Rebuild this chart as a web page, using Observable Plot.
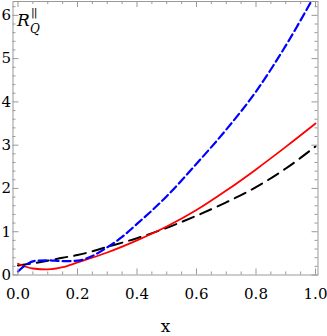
<!DOCTYPE html>
<html>
<head>
<meta charset="utf-8">
<script src="https://cdn.jsdelivr.net/npm/d3@7"></script>
<script src="https://cdn.jsdelivr.net/npm/@observablehq/plot@0.6"></script>
<style>
  html, body { margin: 0; padding: 0; background: #fff; }
  #wrap { position: relative; width: 327px; height: 336px; }
  #ylab { position: absolute; left: 17px; top: 4px; font-family: "DejaVu Serif", "Liberation Serif", "Times New Roman", serif; color: #000; line-height: 1; }
  #ylab .R { font-style: italic; font-size: 17px; position: absolute; left: 0; top: 8px; }
  #ylab .sup { font-size: 11px; position: absolute; left: 14px; top: 3px; letter-spacing: -1px; font-family: "DejaVu Sans", sans-serif; }
  #ylab .sub { font-style: italic; font-size: 12px; position: absolute; left: 13px; top: 19px; }
</style>
</head>
<body>
<div id="wrap">
  <div id="ylab"><span class="R">R</span><span class="sup">||</span><span class="sub">Q</span></div>
</div>
<script>
// Data
const xGrid = [0, 0.05, 0.1, 0.15, 0.2, 0.3, 0.4, 0.5, 0.6, 0.7, 0.8, 0.9, 1.0];
const redValues = [0.26, 0.15, 0.13, 0.18, 0.29, 0.52, 0.8, 1.12, 1.5, 1.95, 2.44, 2.96, 3.5];
const blackValues = [0.22, 0.27, 0.33, 0.40, 0.46, 0.65, 0.85, 1.09, 1.37, 1.68, 2.03, 2.46, 2.97];
const blueGrid = [0, 0.03, 0.06, 0.1, 0.15, 0.2, 0.25, 0.3, 0.35, 0.4, 0.5, 0.6, 0.7, 0.8, 0.9, 1.0];
const blueValues = [0.08, 0.25, 0.33, 0.34, 0.32, 0.33, 0.44, 0.64, 0.88, 1.18, 1.82, 2.57, 3.36, 4.24, 5.3, 6.5];

const xMajor = [0, 0.2, 0.4, 0.6, 0.8, 1.0];
const xMinor = [0.05, 0.1, 0.15, 0.25, 0.3, 0.35, 0.45, 0.5, 0.55, 0.65, 0.7, 0.75, 0.85, 0.9, 0.95];
const yMajor = [0, 1, 2, 3, 4, 5, 6];
const yMinor = [0.2, 0.4, 0.6, 0.8, 1.2, 1.4, 1.6, 1.8, 2.2, 2.4, 2.6, 2.8, 3.2, 3.4, 3.6, 3.8,
                4.2, 4.4, 4.6, 4.8, 5.2, 5.4, 5.6, 5.8, 6.2];

const xDomain = [-0.0168, 1.0084];
const yDomain = [0, 6.32];

const red = xGrid.map((x, i) => ({x, y: redValues[i]}));
const black = xGrid.map((x, i) => ({x, y: blackValues[i]}));
const blue = blueGrid.map((x, i) => ({x, y: blueValues[i]}));

const X0 = xDomain[0], X1 = xDomain[1], Y0 = yDomain[0], Y1 = yDomain[1];
const majY = 0.14, minY = 0.07;   // x-tick lengths in y units
const majX = 0.02, minX = 0.01;   // y-tick lengths in x units
const gray = "#999";
const serif = "'DejaVu Serif', 'Liberation Serif', 'Times New Roman', serif";

const svg = Plot.plot({
  width: 327,
  height: 336,
  marginLeft: 12.5,
  marginRight: 9.5,
  marginTop: 1,
  marginBottom: 61.5,
  x: {domain: xDomain},
  y: {domain: yDomain},
  style: {fontFamily: serif, fontSize: "15px", color: "#000", background: "#fff"},
  marks: [
    Plot.line(black, {x: "x", y: "y", stroke: "#000", strokeWidth: 2, strokeDasharray: "12,7", curve: "monotone-x", clip: true}),
    Plot.line(red, {x: "x", y: "y", stroke: "#ff0000", strokeWidth: 1.8, curve: "monotone-x", clip: true}),
    Plot.line(blue, {x: "x", y: "y", stroke: "#0000ff", strokeWidth: 2.2, strokeDasharray: "8,4", curve: "monotone-x", clip: true}),
    Plot.frame({stroke: gray, strokeWidth: 1}),
    Plot.ruleX(xMajor, {x: d => d, y1: Y0, y2: Y0 + majY, stroke: gray}),
    Plot.ruleX(xMajor, {x: d => d, y1: Y1, y2: Y1 - majY, stroke: gray}),
    Plot.ruleX(xMinor, {x: d => d, y1: Y0, y2: Y0 + minY, stroke: gray}),
    Plot.ruleX(xMinor, {x: d => d, y1: Y1, y2: Y1 - minY, stroke: gray}),
    Plot.ruleY(yMajor, {y: d => d, x1: X0, x2: X0 + majX, stroke: gray}),
    Plot.ruleY(yMajor, {y: d => d, x1: X1, x2: X1 - majX, stroke: gray}),
    Plot.ruleY(yMinor, {y: d => d, x1: X0, x2: X0 + minX, stroke: gray}),
    Plot.ruleY(yMinor, {y: d => d, x1: X1, x2: X1 - minX, stroke: gray}),
    Plot.axisX(xMajor, {tickSize: 0, tickPadding: 13.5, tickFormat: d3.format(".1f"), label: null, fontFamily: serif}),
    Plot.axisY(yMajor, {tickSize: 0, tickPadding: 2, label: null, fontFamily: serif}),
    Plot.text(["x"], {frameAnchor: "bottom", lineAnchor: "bottom", dy: 57, fontSize: 17, fontFamily: serif})
  ]
});
document.getElementById("wrap").prepend(svg);
</script>
</body>
</html>
